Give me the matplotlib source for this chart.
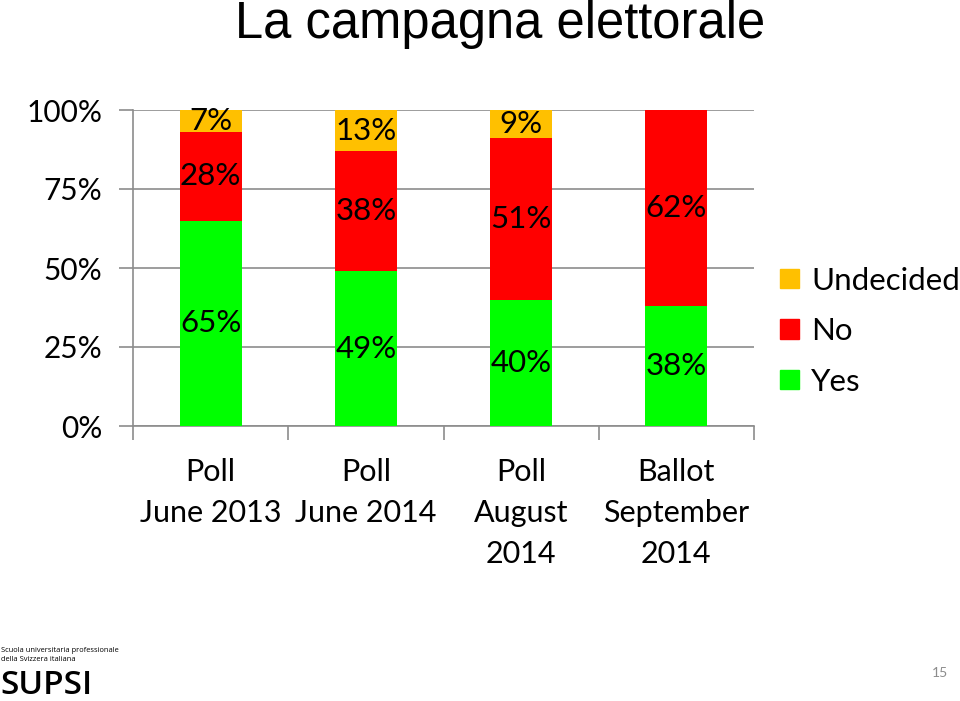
import matplotlib
matplotlib.use("Agg")
import matplotlib.pyplot as plt
import numpy as np
from matplotlib.patches import Patch

categories = ["Poll\nJune 2013", "Poll\nJune 2014", "Poll\nAugust\n2014", "Ballot\nSeptember\n2014"]
yes = [65, 49, 40, 38]
no = [28, 38, 51, 62]
undecided = [7, 13, 9, 0]
yticks = [0, 25, 50, 75, 100]
ytick_labels = ["0%", "25%", "50%", "75%", "100%"]

C_YES = "#00FF00"
C_NO = "#FF0000"
C_UND = "#FFC000"
GRID = "#8C8C8C"
FONT = ["Lato", "DejaVu Sans"]

plt.rcParams["font.family"] = FONT

fig = plt.figure(figsize=(9.6, 7.01), dpi=100)
ax = fig.add_axes([133/960, 1-426/701, (754-133)/960, (426-110)/701])

x = np.arange(len(categories))
w = 0.40
ax.bar(x, yes, w, color=C_YES, zorder=3)
ax.bar(x, no, w, bottom=yes, color=C_NO, zorder=3)
bottom2 = [a + b for a, b in zip(yes, no)]
ax.bar(x, undecided, w, bottom=bottom2, color=C_UND, zorder=3)

LBL = 22.5
for i in range(len(categories)):
    ax.text(x[i], yes[i]/2, f"{yes[i]}%", ha="center", va="center", fontsize=LBL, zorder=4)
    ax.text(x[i], yes[i] + no[i]/2, f"{no[i]}%", ha="center", va="center", fontsize=LBL, zorder=4)
    if undecided[i] > 0:
        ax.text(x[i], bottom2[i] + undecided[i]/2, f"{undecided[i]}%", ha="center", va="center", fontsize=LBL, zorder=4)

ax.set_xlim(-0.5, len(categories) - 0.5)
ax.set_ylim(0, 100)
ax.set_yticks(yticks)
ax.set_yticklabels(ytick_labels, fontsize=21.5)
ax.yaxis.grid(True, color=GRID, linewidth=1.2, zorder=0)
ax.set_axisbelow(True)

# x-axis: boundary ticks, labels centered on categories
ax.set_xticks(np.arange(-0.5, len(categories), 1.0))
ax.set_xticklabels([])
ax.set_xticks(x, minor=True)
ax.set_xticklabels(categories, minor=True, fontsize=22, linespacing=1.57)
ax.tick_params(axis="x", which="minor", length=0, pad=23)
ax.tick_params(axis="x", which="major", length=10, width=1.2, color=GRID, direction="out")
ax.tick_params(axis="y", length=10, width=1.2, color=GRID, direction="out", pad=12)

for s in ["top", "right"]:
    ax.spines[s].set_visible(False)
for s in ["left", "bottom"]:
    ax.spines[s].set_color(GRID)
    ax.spines[s].set_linewidth(1.2)

handles = [Patch(color=C_UND, label="Undecided"), Patch(color=C_NO, label="No"), Patch(color=C_YES, label="Yes")]
fig.legend(handles=handles, loc="center left", bbox_to_anchor=(780/960, 1-331/701),
           frameon=False, fontsize=22.5, handlelength=0.6, handleheight=0.6,
           handletextpad=0.4, labelspacing=0.72, borderaxespad=0, borderpad=0)

fig.text(500/960, 1-38/701, "La campagna elettorale", ha="center", va="baseline",
         fontsize=36.5, family=["Liberation Sans", "DejaVu Sans"])

fig.text(1/960, 1-655/701, "Scuola universitaria professionale\ndella Svizzera italiana",
         ha="left", va="center", fontsize=5.4, linespacing=1.35, family=["Open Sans", "DejaVu Sans"])
fig.text(0/960, 1-686/701, "SUPSI", ha="left", va="center", fontsize=24, weight="semibold",
         family=["Open Sans", "DejaVu Sans"])
fig.text(940/960, 1-673/701, "15", ha="center", va="center", fontsize=10, color="#8C8C8C")

fig.savefig("out.png", dpi=100)
